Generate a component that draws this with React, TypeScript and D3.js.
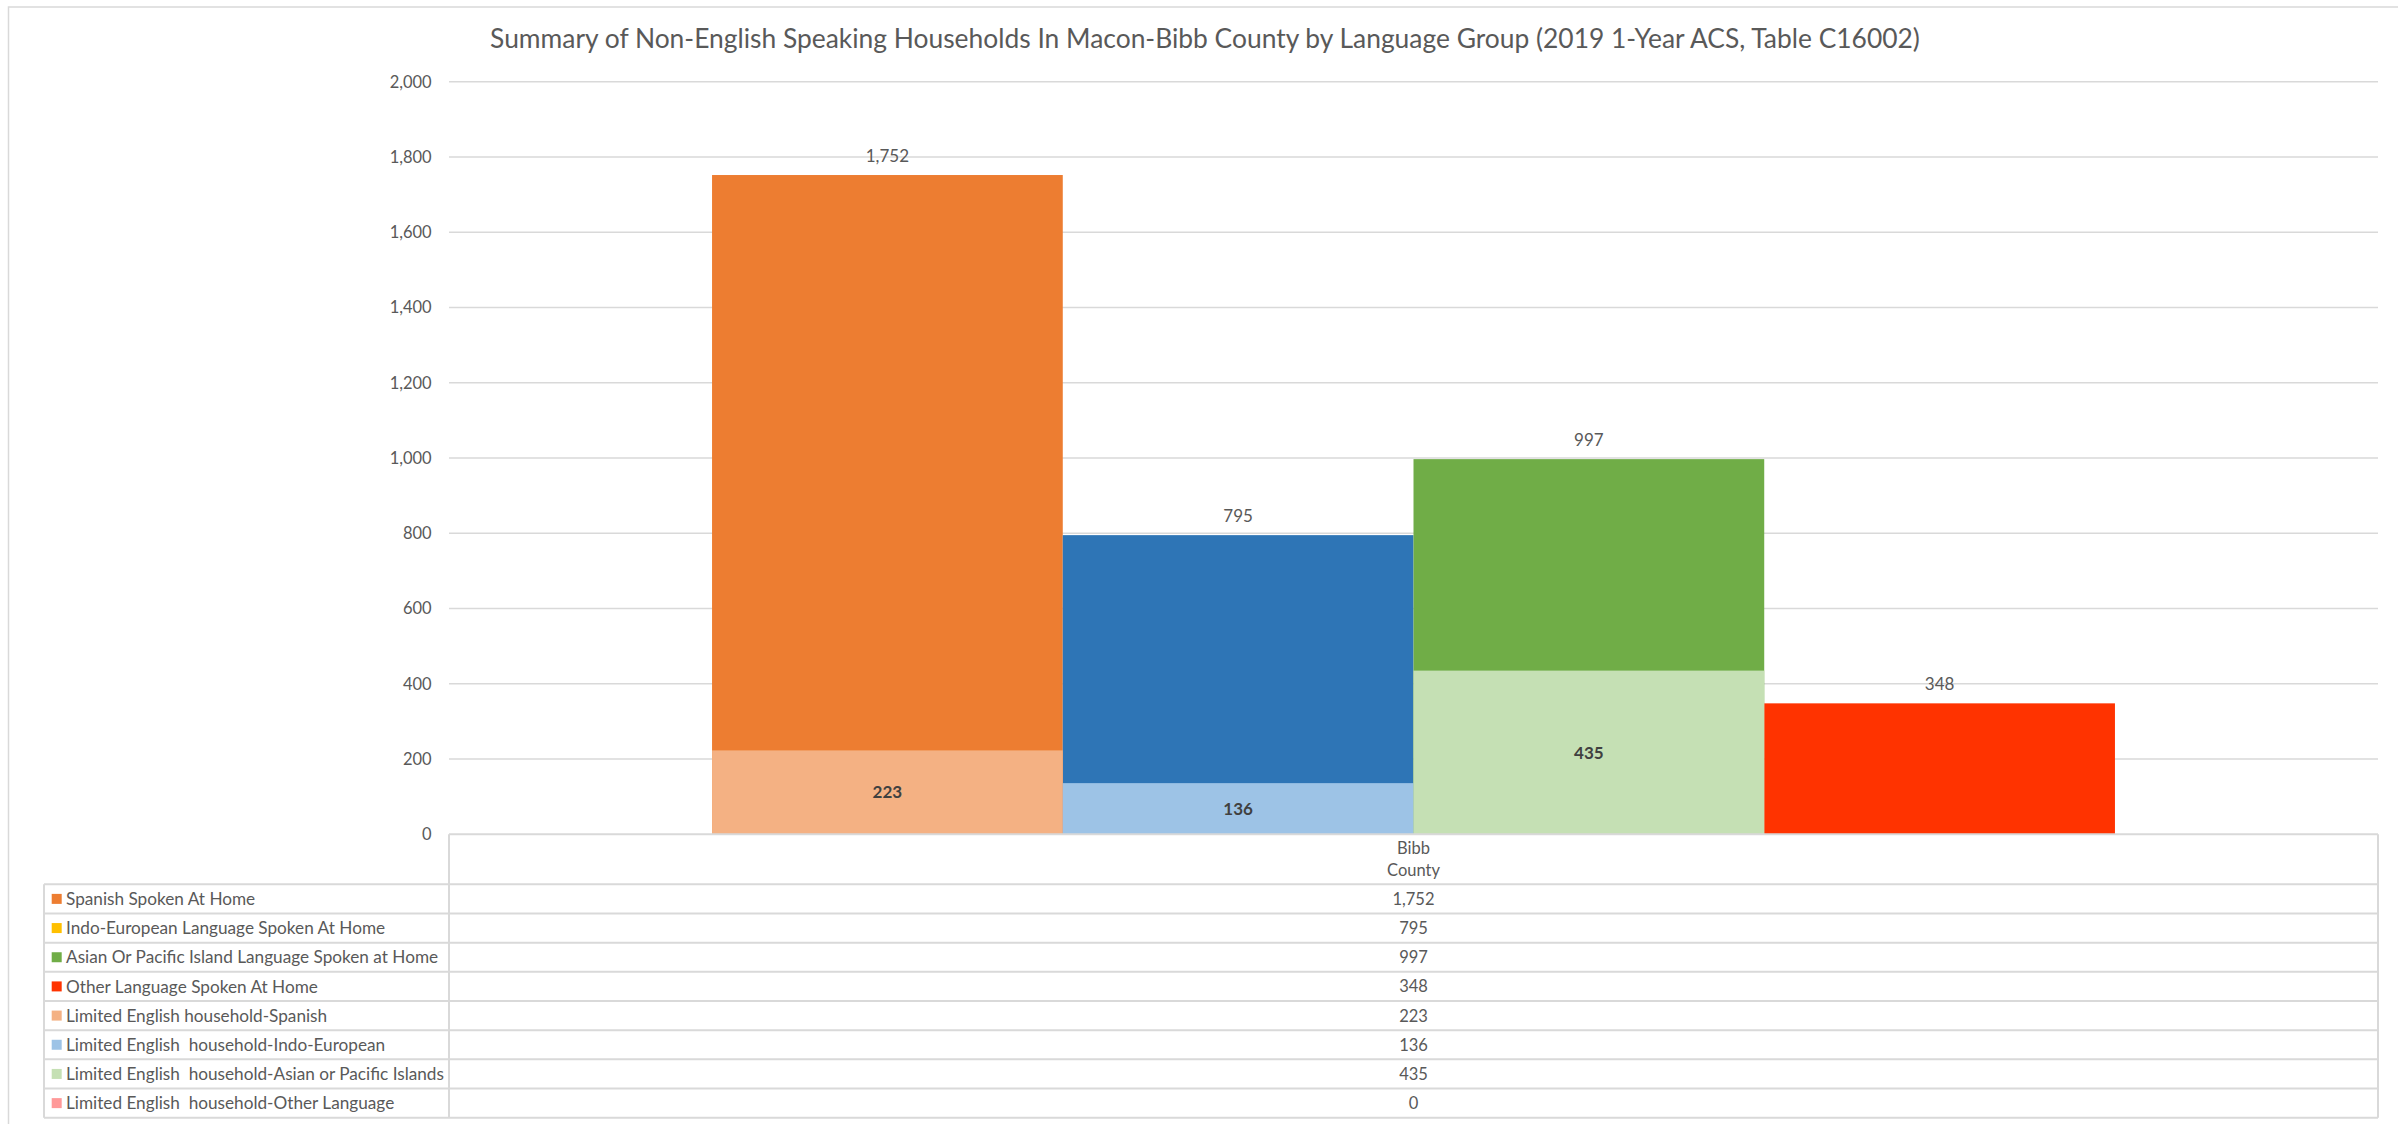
import React from 'react';
import * as d3 from 'd3';

const title =
  'Summary of Non-English Speaking Households In Macon-Bibb County by Language Group (2019 1-Year ACS, Table C16002)';
const categories = ['Bibb County'];
const mainSeries = [
  'Spanish Spoken At Home',
  'Indo-European Language Spoken At Home',
  'Asian Or Pacific Island Language Spoken at Home',
  'Other Language Spoken At Home',
];
const mainValues = [1752, 795, 997, 348];
const limitedSeries = [
  'Limited English household-Spanish',
  'Limited English  household-Indo-European',
  'Limited English  household-Asian or Pacific Islands',
  'Limited English  household-Other Language',
];
const limitedValues = [223, 136, 435, 0];
const yTicks = [0, 200, 400, 600, 800, 1000, 1200, 1400, 1600, 1800, 2000];

const mainBarColors = ['#ED7D31', '#2E75B6', '#70AD47', '#FF3300'];
const mainLegendColors = ['#ED7D31', '#FFC000', '#70AD47', '#FF3300'];
const limitedColors = ['#F4B183', '#9DC3E6', '#C5E0B4', '#FF9999'];

const W = 2398;
const H = 1124;
const plotLeft = 449;
const plotRight = 2378;
const plotTop = 81.7;
const plotBottom = 834.3;
const tableLeft = 44;
const headerBottom = 884.3;
const tableBottom = 1117.7;

const FONT = 'Lato, "Open Sans", sans-serif';
const GRID = '#d9d9d9';
const TEXT = '#595959';

export default function App() {
  const fmt = d3.format(',');
  const y = d3.scaleLinear().domain([0, 2000]).range([plotBottom, plotTop]);
  const xCat = d3
    .scaleBand<string>()
    .domain(categories)
    .range([plotLeft, plotRight])
    .paddingInner(0)
    .paddingOuter(0.1875);
  const xSeries = d3
    .scaleBand<number>()
    .domain(d3.range(mainSeries.length))
    .range([0, xCat.bandwidth()])
    .padding(0);

  const allRows = [
    ...mainSeries.map((name, i) => ({ name, value: mainValues[i], color: mainLegendColors[i] })),
    ...limitedSeries.map((name, i) => ({ name, value: limitedValues[i], color: limitedColors[i] })),
  ];
  const rowH = (tableBottom - headerBottom) / allRows.length;
  const colCenter = (plotLeft + plotRight) / 2;

  return (
    <svg
      width={W}
      height={H}
      style={{ position: 'absolute', left: 0, top: 0, background: '#fff' }}
      fontFamily={FONT}
    >
      <rect x={0} y={0} width={W} height={H} fill="#fff" />
      <rect x={8.5} y={7} width={W + 10} height={H + 10} fill="none" stroke={GRID} strokeWidth={1.5} />

      <text x={1205} y={48.3} textAnchor="middle" fontSize={26.4} fill={TEXT}>
        {title}
      </text>

      {/* gridlines */}
      {yTicks.map((t) => (
        <g key={t}>
          {t > 0 && (
            <line x1={plotLeft} x2={plotRight} y1={y(t)} y2={y(t)} stroke={GRID} strokeWidth={1.5} />
          )}
          <text
            x={431.7}
            y={y(t)}
            dy="0.36em"
            textAnchor="end"
            fontSize={16.5}
            fill={TEXT}
          >
            {fmt(t)}
          </text>
        </g>
      ))}

      {/* bars */}
      {categories.map((c) => (
        <g key={c} transform={`translate(${xCat(c)},0)`}>
          {mainValues.map((v, i) => (
            <rect
              key={'m' + i}
              x={xSeries(i)}
              y={y(v)}
              width={xSeries.bandwidth()}
              height={y(0) - y(v)}
              fill={mainBarColors[i]}
            />
          ))}
          {limitedValues.map((v, i) => (
            <rect
              key={'l' + i}
              x={xSeries(i)}
              y={y(v)}
              width={xSeries.bandwidth()}
              height={y(0) - y(v)}
              fill={limitedColors[i]}
            />
          ))}
          {mainValues.map((v, i) => (
            <text
              key={'ml' + i}
              x={(xSeries(i) as number) + xSeries.bandwidth() / 2}
              y={y(v) - 13.5}
              textAnchor="middle"
              fontSize={17}
              fill={TEXT}
            >
              {fmt(v)}
            </text>
          ))}
          {limitedValues.map((v, i) =>
            v > 0 ? (
              <text
                key={'ll' + i}
                x={(xSeries(i) as number) + xSeries.bandwidth() / 2}
                y={y(v / 2)}
                dy="0.36em"
                textAnchor="middle"
                fontSize={17}
                fontWeight="bold"
                fill="#404040"
              >
                {fmt(v)}
              </text>
            ) : null
          )}
        </g>
      ))}

      {/* data table */}
      <line x1={plotLeft} x2={plotRight} y1={plotBottom} y2={plotBottom} stroke={GRID} strokeWidth={2} />
      <line x1={plotLeft} x2={plotLeft} y1={plotBottom} y2={tableBottom} stroke={GRID} strokeWidth={2} />
      <line x1={plotRight} x2={plotRight} y1={plotBottom} y2={tableBottom} stroke={GRID} strokeWidth={2} />
      <line x1={tableLeft} x2={tableLeft} y1={headerBottom} y2={tableBottom} stroke={GRID} strokeWidth={2} />
      {d3.range(allRows.length + 1).map((k) => (
        <line
          key={'h' + k}
          x1={tableLeft}
          x2={plotRight}
          y1={headerBottom + k * rowH}
          y2={headerBottom + k * rowH}
          stroke={GRID}
          strokeWidth={2}
        />
      ))}
      {categories.map((c) => (
        <g key={'hdr' + c}>
          {c.split(' ').map((w, k) => (
            <text
              key={w}
              x={(xCat(c) as number) + xCat.bandwidth() / 2}
              y={847.7 + k * 22.3}
              dy="0.36em"
              textAnchor="middle"
              fontSize={16.5}
              fill={TEXT}
            >
              {w}
            </text>
          ))}
        </g>
      ))}
      {allRows.map((r, k) => {
        const cy = headerBottom + (k + 0.5) * rowH;
        return (
          <g key={'row' + k}>
            <rect x={51.7} y={cy - 5} width={10} height={10} fill={r.color} />
            <text
              x={66}
              y={cy}
              dy="0.36em"
              fontSize={17.2}
              fill={TEXT}
              style={{ whiteSpace: 'pre' }}
            >
              {r.name}
            </text>
            <text x={colCenter} y={cy} dy="0.36em" textAnchor="middle" fontSize={16.5} fill={TEXT}>
              {fmt(r.value)}
            </text>
          </g>
        );
      })}
    </svg>
  );
}
